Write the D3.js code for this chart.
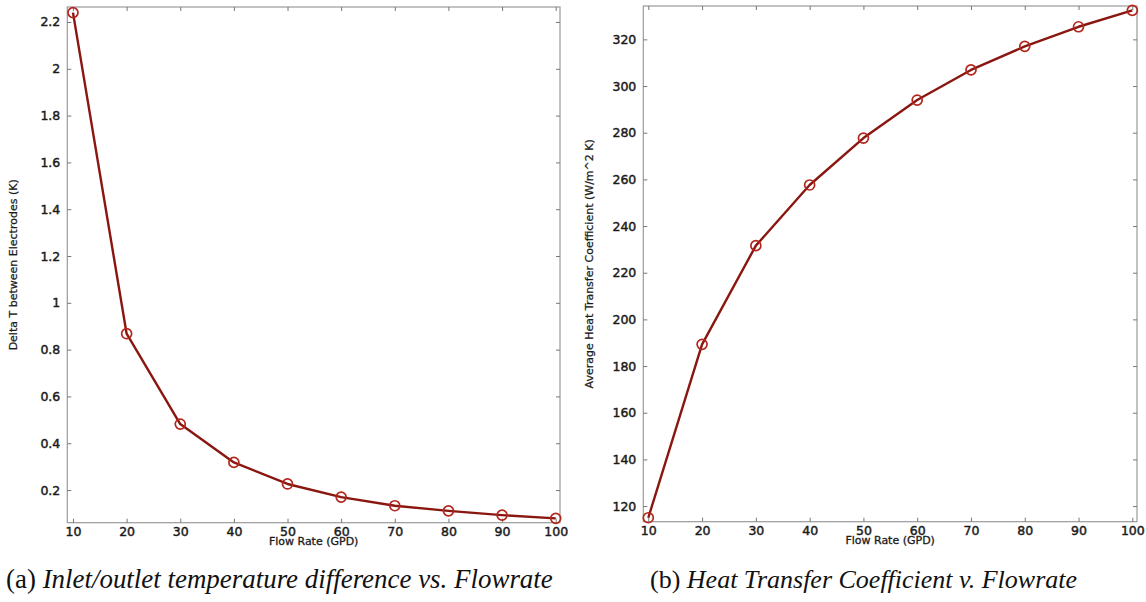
<!DOCTYPE html>
<html>
<head>
<meta charset="utf-8">
<script src="https://cdn.jsdelivr.net/npm/d3@7"></script>
<style>
  html, body { margin: 0; padding: 0; background: #fff; }
  svg { display: block; }
</style>
</head>
<body>
<svg id="chart" width="1146" height="602"></svg>
<script>
// ---- data ----
const flowRates = [10, 20, 30, 40, 50, 60, 70, 80, 90, 100];
const deltaT = [2.24, 0.868, 0.482, 0.318, 0.226, 0.170, 0.133, 0.111, 0.093, 0.079];
const heatCoef = [115.0, 189.3, 231.6, 257.6, 277.7, 294.0, 306.9, 317.0, 325.4, 332.4];
const xTicks = [10, 20, 30, 40, 50, 60, 70, 80, 90, 100];
const yTicksA = [0.2, 0.4, 0.6, 0.8, 1, 1.2, 1.4, 1.6, 1.8, 2, 2.2];
const yTicksB = [120, 140, 160, 180, 200, 220, 240, 260, 280, 300, 320];
const xLabel = "Flow Rate (GPD)";
const yLabelA = "Delta T between Electrodes (K)";
const yLabelB = "Average Heat Transfer Coefficient (W/m^2 K)";
const captionA = ["(a) ", "Inlet/outlet temperature difference vs. Flowrate"];
const captionB = ["(b) ", "Heat Transfer Coefficient v. Flowrate"];

const svg = d3.select("#chart");
const lineColor = "#8a1610";
const markColor = "#b3261c";
const frameColor = "#9a9a9a";
const textColor = "#1a1a1a";

function panel(opts) {
  const { left, right, top, bottom, xDomain, yDomain, ys, yTicks, yFmt, yLabel, yLabelX, caption, capLeft, capRight } = opts;
  const g = svg.append("g");
  const x = d3.scaleLinear().domain(xDomain).range([left, right]);
  const y = d3.scaleLinear().domain(yDomain).range([bottom, top]);

  // frame
  g.append("rect").attr("x", left).attr("y", top)
    .attr("width", right - left).attr("height", bottom - top)
    .attr("fill", "none").attr("stroke", frameColor).attr("stroke-width", 1.2);

  const tickLen = 4;
  const xb = d3.axisBottom(x).tickValues(xTicks).tickSizeInner(-tickLen).tickSizeOuter(0).tickPadding(4).tickFormat(d3.format("d"));
  const gxb = g.append("g").attr("transform", `translate(0,${bottom})`).call(xb);
  const xt = d3.axisTop(x).tickValues(xTicks).tickSizeInner(-tickLen).tickSizeOuter(0).tickFormat("");
  const gxt = g.append("g").attr("transform", `translate(0,${top})`).call(xt);
  const yl = d3.axisLeft(y).tickValues(yTicks).tickSizeInner(-tickLen).tickSizeOuter(0).tickPadding(7).tickFormat(yFmt);
  const gyl = g.append("g").attr("transform", `translate(${left},0)`).call(yl);
  const yr = d3.axisRight(y).tickValues(yTicks).tickSizeInner(-tickLen).tickSizeOuter(0).tickFormat("");
  const gyr = g.append("g").attr("transform", `translate(${right},0)`).call(yr);

  [gxb, gxt, gyl, gyr].forEach(a => {
    a.select(".domain").remove();
    a.selectAll(".tick line").attr("stroke", "#777").attr("stroke-width", 1);
    a.selectAll(".tick text")
      .attr("fill", textColor)
      .attr("stroke", textColor).attr("stroke-width", 0.45)
      .style("font-family", "'DejaVu Sans', sans-serif")
      .style("font-size", "12.5px");
  });

  // line
  const line = d3.line().x((d, i) => x(flowRates[i])).y(d => y(d));
  g.append("path").datum(ys).attr("d", line)
    .attr("fill", "none").attr("stroke", lineColor).attr("stroke-width", 2.4)
    .attr("stroke-linejoin", "round");

  // markers
  g.selectAll("circle.m").data(ys).join("circle").attr("class", "m")
    .attr("cx", (d, i) => x(flowRates[i])).attr("cy", d => y(d))
    .attr("r", 5).attr("fill", "none").attr("stroke", markColor).attr("stroke-width", 1.7);

  // x label
  g.append("text").attr("x", (left + right) / 2).attr("y", bottom + 22)
    .attr("text-anchor", "middle").attr("fill", textColor)
    .attr("stroke", textColor).attr("stroke-width", 0.3)
    .style("font-family", "'DejaVu Sans', sans-serif").style("font-size", "11px")
    .text(xLabel);

  // y label
  g.append("text").attr("transform", `translate(${yLabelX},${(top + bottom) / 2}) rotate(-90)`)
    .attr("text-anchor", "middle").attr("dominant-baseline", "central").attr("fill", textColor)
    .attr("stroke", textColor).attr("stroke-width", 0.25)
    .style("font-family", "'DejaVu Sans', sans-serif").style("font-size", "11px")
    .text(yLabel);

  // caption
  const cap = g.append("text").attr("x", capLeft).attr("y", 588)
    .attr("fill", "#111")
    .style("font-family", "'Liberation Serif', 'DejaVu Serif', serif").style("font-size", "24px");
  cap.append("tspan").text(caption[0]);
  cap.append("tspan").style("font-style", "italic").text(caption[1]);
  const w = cap.node().getComputedTextLength();
  const target = capRight - capLeft;
  cap.style("font-size", (24 * target / w).toFixed(2) + "px");
}

panel({
  left: 67.3, right: 560, top: 7, bottom: 522.7,
  xDomain: [8.94, 100.8], yDomain: [0.0605, 2.264],
  ys: deltaT, yTicks: yTicksA, yFmt: d3.format("~g"),
  yLabel: yLabelA, yLabelX: 13,
  caption: captionA, capLeft: 6, capRight: 553
});

panel({
  left: 643.3, right: 1137, top: 6, bottom: 521.7,
  xDomain: [9.07, 100.87], yDomain: [113.3, 334.3],
  ys: heatCoef, yTicks: yTicksB, yFmt: d3.format("d"),
  yLabel: yLabelB, yLabelX: 589,
  caption: captionB, capLeft: 650, capRight: 1077
});
</script>
</body>
</html>
